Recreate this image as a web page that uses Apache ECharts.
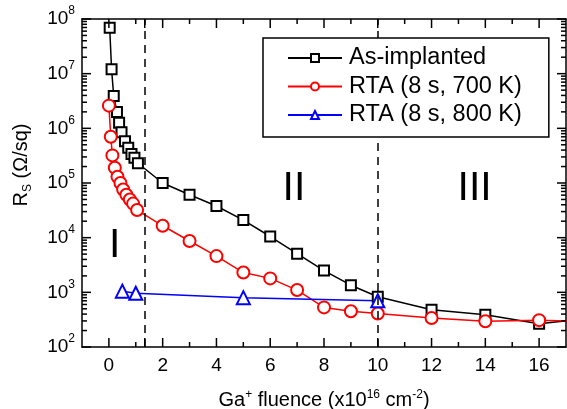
<!DOCTYPE html>
<html>
<head>
<meta charset="utf-8">
<script src="https://cdn.jsdelivr.net/npm/echarts@6/dist/echarts.min.js"></script>
<style>
  html, body { margin: 0; padding: 0; background: #fff; }
  #chart { width: 567px; height: 409px; }
</style>
</head>
<body>
<div id="chart"></div>
<script>
// fluence in 1e16 cm^-2, sheet resistance in ohm/sq
const fluenceAs = [0.03, 0.1, 0.18, 0.3, 0.38, 0.47, 0.6, 0.72, 0.84, 0.95, 1.08, 2, 3, 4, 5, 6, 7, 8, 9, 10, 12, 14, 16, 18];
const rsAs = [6.9e7, 1.2e7, 3.9e6, 2.0e6, 1.26e6, 8.5e5, 5.8e5, 4.4e5, 3.4e5, 2.9e5, 2.3e5, 1.0e5, 6.1e4, 3.8e4, 2.1e4, 1.05e4, 5.1e3, 2.5e3, 1.35e3, 830, 480, 390, 265, 340];

const fluence700 = [0, 0.07, 0.13, 0.22, 0.32, 0.43, 0.53, 0.65, 0.78, 0.9, 1.05, 2, 3, 4, 5, 6, 7, 8, 9, 10, 12, 14, 16, 18];
const rs700 = [2.6e6, 7.0e5, 3.2e5, 1.9e5, 1.3e5, 1.0e5, 7.6e4, 6.1e4, 5.0e4, 4.2e4, 3.2e4, 1.65e4, 8.7e3, 4.6e3, 2.3e3, 1.8e3, 1.1e3, 530, 450, 410, 340, 295, 310, 290];

const fluence800 = [0.5, 1, 5, 10];
const rs800 = [1050, 960, 800, 700];

const seriesNames = ['As-implanted', 'RTA (8 s, 700 K)', 'RTA (8 s, 800 K)'];

const xLabels = [0, 2, 4, 6, 8, 10, 12, 14, 16];
const xMajorTicks = [0, 1.333, 2, 4, 6, 8, 10, 12, 14, 16];
const xMinorTicks = [1, 3, 5, 7, 9, 11, 13, 15];
const yDecades = [1e2, 1e3, 1e4, 1e5, 1e6, 1e7, 1e8];
const yMinorTicks = [];
for (let d = 2; d < 8; d++) {
    for (let k = 2; k < 10; k++) {
        yMinorTicks.push(k * Math.pow(10, d));
    }
}

// region boundaries and region names
const regionBounds = [1.333, 10];
const regionNames = ['I', 'II', 'III'];
const regionX = [0.22, 6.88, 13.6];
const regionY = [7000, 7.8e4, 7.8e4];

const FONT = '"Liberation Sans", Arial, sans-serif';
const X_MIN = -1, X_MAX = 17, Y_MIN = 1e2, Y_MAX = 1e8;

const chart = echarts.init(document.getElementById('chart'));

chart.setOption({
    animation: false,
    grid: {
        left: 82,
        right: 1,
        top: 19,
        bottom: 62,
        outerBoundsMode: 'none'
    },
    legend: {
        orient: 'vertical',
        left: 263,
        top: 38,
        z: 50,
        padding: [7, 27, 9, 24],
        itemGap: 2.5,
        itemWidth: 54,
        itemHeight: 10,
        backgroundColor: '#fff',
        borderColor: '#000',
        borderWidth: 1.5,
        borderRadius: 0,
        textStyle: {
            color: '#000',
            fontSize: 23.5,
            fontFamily: FONT,
            lineHeight: 26,
            padding: [0, 0, 0, 2]
        },
        data: seriesNames
    },
    xAxis: [
        {
            type: 'value',
            position: 'bottom',
            min: X_MIN,
            max: X_MAX,
            axisLine: { show: true, lineStyle: { color: '#000', width: 1.5 } },
            axisTick: { show: false },
            splitLine: { show: false },
            axisLabel: {
                show: true,
                customValues: xLabels,
                margin: 9,
                color: '#000',
                fontSize: 19,
                fontFamily: FONT
            },
            name: 'Ga{sup|+} fluence (x10{sup|16} cm{sup|-2})',
            nameLocation: 'middle',
            nameGap: 42,
            nameTextStyle: {
                color: '#000',
                fontSize: 20,
                fontFamily: FONT,
                rich: {
                    sup: { fontSize: 12, color: '#000', fontFamily: FONT, padding: [0, 0, 10, 0] }
                }
            }
        },
        {
            type: 'value',
            position: 'top',
            min: X_MIN,
            max: X_MAX,
            axisLine: { show: true, lineStyle: { color: '#000', width: 1.5 } },
            axisTick: { show: false },
            axisLabel: { show: false },
            splitLine: { show: false }
        },
        // hidden helper axis that does not cross zero, keeps y axes at the grid edges
        { type: 'value', show: false, min: 1, max: 2 }
    ],
    yAxis: [
        {
            type: 'log',
            position: 'left',
            min: Y_MIN,
            max: Y_MAX,
            axisLine: { show: true, onZero: true, onZeroAxisIndex: 2, lineStyle: { color: '#000', width: 1.5 } },
            axisTick: { show: false },
            splitLine: { show: false },
            axisLabel: {
                show: true,
                customValues: yDecades,
                margin: 7,
                color: '#000',
                formatter: v => '{b|10}{s|' + Math.round(Math.log10(v)) + '}',
                rich: {
                    b: { fontSize: 19, color: '#000', fontFamily: FONT },
                    s: { fontSize: 12, color: '#000', fontFamily: FONT, padding: [0, 0, 16, 0] }
                }
            },
            name: 'R{sub|S} (Ω/sq)',
            nameLocation: 'middle',
            nameRotate: 90,
            nameGap: 48,
            nameTextStyle: {
                color: '#000',
                fontSize: 20,
                fontFamily: FONT,
                padding: [0, 0, 0, 36],
                rich: {
                    sub: { fontSize: 12, color: '#000', fontFamily: FONT, padding: [14, 0, 0, 0] }
                }
            }
        },
        {
            type: 'log',
            position: 'right',
            min: Y_MIN,
            max: Y_MAX,
            axisLine: { show: true, onZero: true, onZeroAxisIndex: 2, lineStyle: { color: '#000', width: 1.5 } },
            axisTick: { show: false },
            axisLabel: { show: false },
            splitLine: { show: false }
        }
    ],
    series: [
        {
            name: seriesNames[0],
            type: 'line',
            xAxisIndex: 0,
            yAxisIndex: 0,
            symbol: 'emptyRect',
            symbolSize: 10,
            color: '#000',
            lineStyle: { color: '#000', width: 1.5 },
            data: fluenceAs.map((x, i) => [x, rsAs[i]]),
            markLine: {
                silent: true,
                symbol: 'none',
                label: { show: false },
                lineStyle: { color: '#000', type: [8, 6], width: 1.5 },
                data: regionBounds.map(x => ({ xAxis: x }))
            },
            markPoint: {
                silent: true,
                symbol: 'circle',
                symbolSize: 1,
                itemStyle: { color: 'rgba(0,0,0,0)' },
                label: {
                    show: true,
                    position: 'inside',
                    formatter: p => p.name,
                    color: '#000',
                    fontSize: 41,
                    fontFamily: FONT
                },
                data: regionNames.map((n, i) => ({ name: n, coord: [regionX[i], regionY[i]] }))
            }
        },
        {
            name: seriesNames[1],
            type: 'line',
            xAxisIndex: 0,
            yAxisIndex: 0,
            symbol: 'emptyCircle',
            symbolSize: 12,
            color: '#ff0000',
            lineStyle: { color: '#ff0000', width: 1.5 },
            data: fluence700.map((x, i) => [x, rs700[i]])
        },
        {
            name: seriesNames[2],
            type: 'line',
            xAxisIndex: 0,
            yAxisIndex: 0,
            symbol: 'emptyTriangle',
            symbolSize: 13,
            color: '#0000ff',
            lineStyle: { color: '#0000ff', width: 1.5 },
            data: fluence800.map((x, i) => [x, rs800[i]])
        }
    ]
});

// tick marks on all four sides, placed through the axes' own scales
function buildTicks() {
    const els = [];
    const bottom = chart.convertToPixel({ yAxisIndex: 0 }, Y_MIN);
    const top = chart.convertToPixel({ yAxisIndex: 0 }, Y_MAX);
    const left = chart.convertToPixel({ xAxisIndex: 0 }, X_MIN);
    const right = chart.convertToPixel({ xAxisIndex: 0 }, X_MAX);
    const style = { stroke: '#000', lineWidth: 1.5 };
    function seg(x1, y1, x2, y2) {
        els.push({ type: 'line', silent: true, z: 10, shape: { x1: x1, y1: y1, x2: x2, y2: y2 }, style: style });
    }
    function xTick(v, len) {
        const px = chart.convertToPixel({ xAxisIndex: 0 }, v);
        seg(px, bottom, px, bottom - len);
        seg(px, top, px, top + len);
    }
    function yTick(v, len) {
        const py = chart.convertToPixel({ yAxisIndex: 0 }, v);
        seg(left, py, left + len, py);
        seg(right, py, right - len, py);
    }
    xMajorTicks.forEach(v => xTick(v, 9));
    xMinorTicks.forEach(v => xTick(v, 5));
    yDecades.forEach(v => yTick(v, 9));
    yMinorTicks.forEach(v => yTick(v, 5));
    return els;
}

chart.setOption({ graphic: { elements: buildTicks() } });
</script>
</body>
</html>
